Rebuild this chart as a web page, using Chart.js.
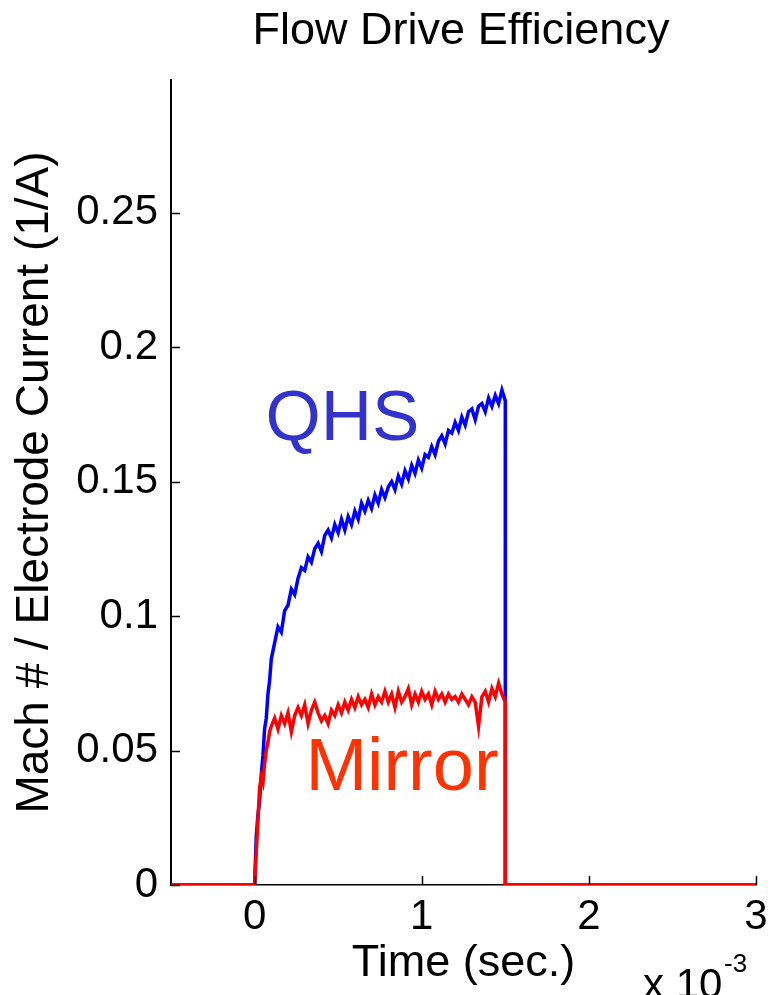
<!DOCTYPE html>
<html>
<head>
<meta charset="utf-8">
<script src="https://cdn.jsdelivr.net/npm/chart.js@4.4.0/dist/chart.umd.min.js"></script>
<style>
  html, body { margin:0; padding:0; background:#fff; }
</style>
</head>
<body>
<canvas id="grafico" width="775" height="995"></canvas>
<script>
// tiempo en ms (eje x escalado x 10^-3)
var tiempo = [-0.5, 0,
  0.01, 0.02, 0.03, 0.04, 0.05, 0.06, 0.07, 0.08, 0.09, 0.10,
  0.12, 0.14, 0.16, 0.18, 0.20, 0.22, 0.24, 0.26, 0.28, 0.30,
  0.32, 0.34, 0.36, 0.38, 0.40, 0.42, 0.44, 0.46, 0.48, 0.50,
  0.52, 0.54, 0.56, 0.58, 0.60, 0.62, 0.64, 0.66, 0.68, 0.70,
  0.72, 0.74, 0.76, 0.78, 0.80, 0.82, 0.84, 0.86, 0.88, 0.90,
  0.92, 0.94, 0.96, 0.98, 1.00, 1.02, 1.04, 1.06, 1.08, 1.10,
  1.12, 1.14, 1.16, 1.18, 1.20, 1.22, 1.24, 1.26, 1.28, 1.30,
  1.32, 1.34, 1.36, 1.38, 1.40, 1.42, 1.44, 1.46, 1.48, 1.50,
  1.5, 3];

var qhs = [0, 0,
  0.018, 0.026, 0.031, 0.041, 0.048, 0.058, 0.062, 0.071, 0.076, 0.084,
  0.090, 0.096, 0.094, 0.102, 0.104, 0.110, 0.108, 0.114, 0.118, 0.117,
  0.122, 0.120, 0.125, 0.127, 0.124, 0.130, 0.132, 0.129, 0.134, 0.131,
  0.136, 0.132, 0.137, 0.134, 0.139, 0.136, 0.142, 0.139, 0.143, 0.140,
  0.145, 0.142, 0.147, 0.144, 0.148, 0.150, 0.147, 0.152, 0.149, 0.154,
  0.151, 0.156, 0.153, 0.158, 0.155, 0.160, 0.159, 0.163, 0.160, 0.165,
  0.167, 0.164, 0.169, 0.168, 0.172, 0.169, 0.174, 0.171, 0.176, 0.177,
  0.173, 0.178, 0.179, 0.176, 0.181, 0.178, 0.182, 0.179, 0.184, 0.180,
  0, 0];

var mirror = [0, 0,
  0.012, 0.024, 0.036, 0.040, 0.038, 0.045, 0.050, 0.053, 0.057, 0.059,
  0.062, 0.058, 0.063, 0.060, 0.064, 0.057, 0.063, 0.066, 0.063, 0.067,
  0.060, 0.065, 0.068, 0.064, 0.061, 0.063, 0.060, 0.065, 0.063, 0.067,
  0.064, 0.068, 0.065, 0.069, 0.066, 0.070, 0.067, 0.069, 0.066, 0.071,
  0.067, 0.070, 0.068, 0.072, 0.068, 0.071, 0.066, 0.072, 0.068, 0.070,
  0.073, 0.067, 0.071, 0.068, 0.072, 0.069, 0.071, 0.067, 0.072, 0.069,
  0.071, 0.068, 0.071, 0.069, 0.070, 0.068, 0.071, 0.069, 0.067, 0.070,
  0.068, 0.059, 0.070, 0.072, 0.068, 0.073, 0.070, 0.075, 0.071, 0.068,
  0, 0];

var xTicks = [0, 1, 2, 3];
var yTicks = [0, 0.05, 0.1, 0.15, 0.2, 0.25];

var fuente = '"Liberation Sans", Arial, sans-serif';

function puntos(serie){
    return tiempo.map(function(t, i){ return {x: t, y: serie[i]}; });
}

var rotulos = {
    id: 'rotulos',
    afterDraw: function(chart){
        var ctx = chart.ctx;
        var xs = chart.scales.x, ys = chart.scales.y;
        var area = chart.chartArea;
        ctx.save();
        // ticks hacia adentro
        ctx.strokeStyle = '#000';
        ctx.lineWidth = 1.5;
        yTicks.forEach(function(v){
            var py = Math.round(ys.getPixelForValue(v)) + 0.5;
            ctx.beginPath();
            ctx.moveTo(area.left, py);
            ctx.lineTo(area.left + 9, py);
            ctx.stroke();
        });
        xTicks.forEach(function(v){
            var px = Math.round(xs.getPixelForValue(v)) + 0.5;
            ctx.beginPath();
            ctx.moveTo(px, area.bottom);
            ctx.lineTo(px, area.bottom - 9);
            ctx.stroke();
        });

        // titulo
        ctx.fillStyle = '#000';
        ctx.font = '45px ' + fuente;
        ctx.textAlign = 'center';
        ctx.textBaseline = 'alphabetic';
        ctx.fillText('Flow Drive Efficiency', 461, 44);

        // x 10^-3
        ctx.textAlign = 'left';
        ctx.font = '42px ' + fuente;
        ctx.fillText('x 10', 643, 998);
        ctx.font = '26px ' + fuente;
        ctx.fillText('-3', 724, 972);

        // etiquetas de las series
        ctx.font = '71px ' + fuente;
        ctx.fillStyle = '#3333cc';
        ctx.fillText('QHS', xs.getPixelForValue(0.066), ys.getPixelForValue(0.1654));
        ctx.font = '74px ' + fuente;
        ctx.fillStyle = '#ff3300';
        ctx.fillText('Mirror', xs.getPixelForValue(0.304), ys.getPixelForValue(0.0353));
        ctx.restore();
    }
};

var ctx = document.getElementById('grafico').getContext('2d');
var chart = new Chart(ctx, {
    type: 'line',
    data: {
        datasets: [{
            label: 'Mirror',
            data: puntos(mirror),
            borderColor: '#ff0000',
            borderWidth: 3.5,
            pointRadius: 0,
            tension: 0,
            order: 0
        }, {
            label: 'QHS',
            data: puntos(qhs),
            borderColor: '#0000ff',
            borderWidth: 3.5,
            pointRadius: 0,
            tension: 0,
            order: 1
        }]
    },
    options: {
        responsive: false,
        devicePixelRatio: 1,
        animation: false,
        layout: {padding: {top: 80, right: 19, left: 0, bottom: 0}},
        plugins: {legend: {display: false}, tooltip: {enabled: false}, title: {display: false}},
        scales: {
            x: {
                type: 'linear',
                min: -0.5,
                max: 3,
                afterBuildTicks: function(s){ s.ticks = xTicks.map(function(v){ return {value: v}; }); },
                afterFit: function(s){ s.height = 110; },
                grid: {display: false, drawTicks: false},
                border: {display: true, color: '#000', width: 1.5},
                ticks: {color: '#000', font: {family: fuente, size: 42}, padding: 7, maxRotation: 0, autoSkip: false,
                        callback: function(v){ return String(v); }},
                title: {display: true, text: 'Time (sec.)', color: '#000', font: {family: fuente, size: 45},
                        padding: {top: 0, bottom: 4}}
            },
            y: {
                type: 'linear',
                min: 0,
                max: 0.2993,
                afterBuildTicks: function(s){ s.ticks = yTicks.map(function(v){ return {value: v}; }); },
                afterFit: function(s){ s.width = 171; },
                grid: {display: false, drawTicks: false},
                border: {display: true, color: '#000', width: 2},
                ticks: {color: '#000', font: {family: fuente, size: 42}, padding: 13, autoSkip: false,
                        callback: function(v){ return String(v); }},
                title: {display: true, text: 'Mach # / Electrode Current (1/A)', color: '#000',
                        font: {family: fuente, size: 46}, padding: {top: 8, bottom: 0}}
            }
        }
    },
    plugins: [rotulos]
});
</script>
</body>
</html>
